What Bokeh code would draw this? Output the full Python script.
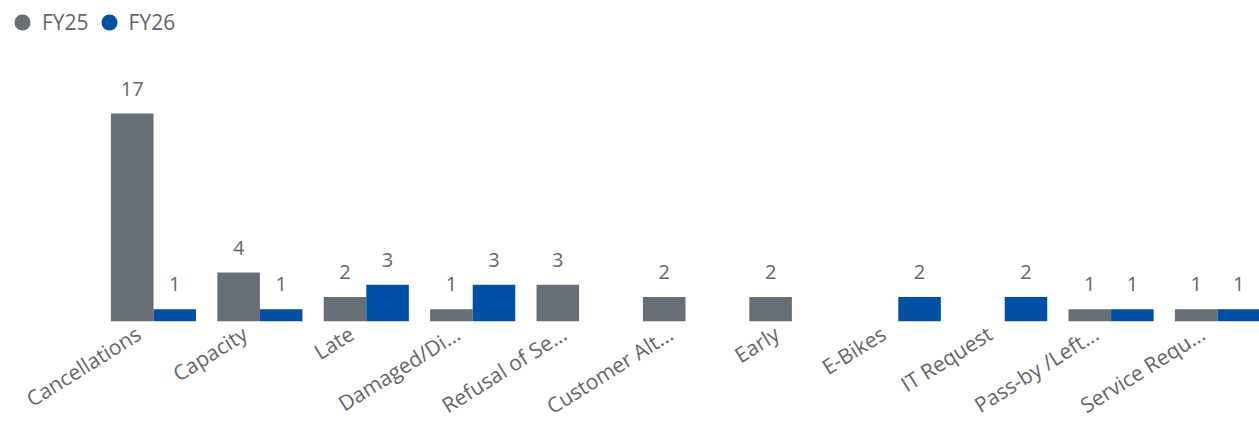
from bokeh.plotting import figure
from bokeh.models import ColumnDataSource, Range1d, FixedTicker, Legend, LegendItem
from bokeh.transform import dodge
from bokeh.core.properties import value
from bokeh.embed import file_html
from bokeh.resources import INLINE

# ---- data ----
categories = ["Cancellations", "Capacity", "Late", "Damaged/Di...", "Refusal of Se...",
              "Customer Alt...", "Early", "E-Bikes", "IT Request", "Pass-by /Left...",
              "Service Requ..."]
fy25 = [17, 4, 2, 1, 3, 2, 2, None, None, 1, 1]
fy26 = [1, 1, 3, 3, None, None, None, 2, 2, 1, 1]
series_names = ["FY25", "FY26"]

# ---- styles ----
COLORS = ["#686E76", "#0050A5"]
TEXT_COLOR = "#666666"
FONT = "Open Sans"
LABEL_SHIFT = 0.14  # tick labels sit slightly left of the category centre

p = figure(width=1259, height=434, output_backend="svg", toolbar_location=None,
           x_range=Range1d(-1.438, 10.395), y_range=Range1d(0, 26.24),
           y_axis_location=None, min_border_left=0, min_border_right=0,
           min_border_top=0, min_border_bottom=0)
p.outline_line_color = None
p.xgrid.visible = False
p.ygrid.visible = False

offsets = [-0.2, 0.2]
legend_items = []
for name, vals, col, off in zip(series_names, [fy25, fy26], COLORS, offsets):
    idx = [i for i, v in enumerate(vals) if v]
    vv = [vals[i] for i in idx]
    src = ColumnDataSource(dict(idx=idx, val=vv, label=[str(v) for v in vv]))
    p.vbar(x=dodge("idx", off, range=p.x_range), top="val", width=0.4,
           fill_color=col, line_color=None, source=src)
    p.text(x=dodge("idx", off, range=p.x_range), y="val", text="label", source=src,
           text_align="center", text_baseline="bottom", y_offset=-18,
           text_font=value(FONT), text_font_size="20px", text_color=TEXT_COLOR)
    # legend-only marker (no data point is drawn)
    r = p.scatter(x=[float("nan")], y=[float("nan")], marker="circle",
                  fill_color=col, line_color=None)
    legend_items.append(LegendItem(label=name, renderers=[r]))

legend = Legend(items=legend_items, orientation="horizontal", location="top_left",
                margin=2, padding=0, glyph_width=40, glyph_height=40,
                label_standoff=0, spacing=0, border_line_color=None,
                background_fill_alpha=0, label_text_font=FONT,
                label_text_font_size="21px", label_text_color=TEXT_COLOR)
p.add_layout(legend)

tick_pos = [round(i - LABEL_SHIFT, 2) for i in range(len(categories))]
ax = p.xaxis[0]
ax.ticker = FixedTicker(ticks=tick_pos)
ax.major_label_overrides = {t: c for t, c in zip(tick_pos, categories)}
ax.major_label_orientation = 0.56
ax.axis_line_color = None
ax.major_tick_line_color = None
ax.minor_tick_line_color = None
ax.major_tick_out = 0
ax.major_tick_in = 0
ax.major_label_standoff = 10
ax.major_label_text_font = FONT
ax.major_label_text_font_size = "21px"
ax.major_label_text_color = TEXT_COLOR

open("out.html", "w").write(file_html(p, INLINE))
